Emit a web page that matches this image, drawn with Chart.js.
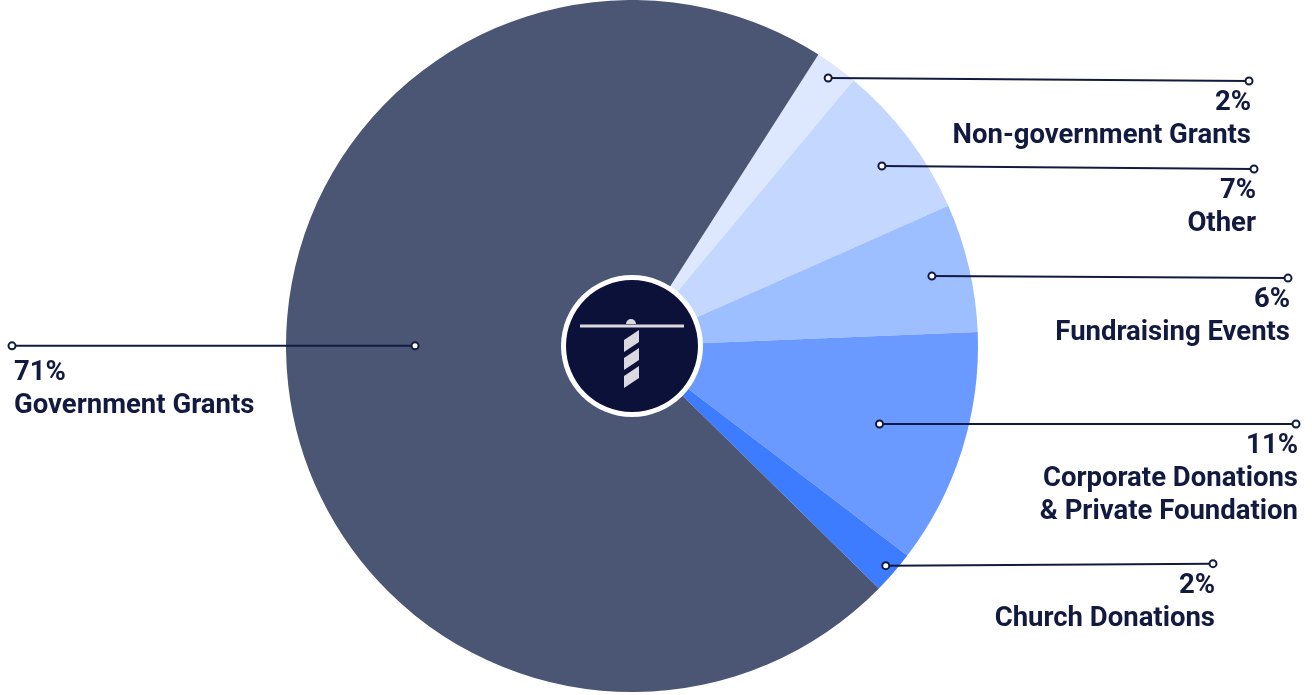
<!DOCTYPE html>
<html>
<head>
<meta charset="utf-8">
<script src="https://cdn.jsdelivr.net/npm/chart.js@4.4.1/dist/chart.umd.min.js"></script>
<style>
    html, body { margin: 0; padding: 0; background: #ffffff; }
    #wrap { width: 1312px; height: 695px; position: relative; }
</style>
</head>
<body>
<div id="wrap"><canvas id="fontes"></canvas></div>
<script>
// slices clockwise, starting right after Government Grants
const categorias = ["Non-government Grants", "Other", "Fundraising Events", "Corporate Donations\n& Private Foundation", "Church Donations", "Government Grants"];
const valores = [2, 7.3, 6, 11, 2, 71.7];
const rotulos = ["2%", "7%", "6%", "11%", "2%", "71%"];
const cores = ["#dde8ff", "#c4d7ff", "#9dbeff", "#6a9aff", "#3e7cff", "#4b5675"];

// leader lines: fraction of radius where the line starts, angle nudge (deg), x of the label end
const inicioRaio = [0.96, 0.89, 0.89, 0.75, 0.97, 0.627];
const ajusteAngulo = [0, 1.3, 0, 0, 0, 6.5];
const fimX = [1249, 1254, 1288, 1296, 1213, 12];
const inclinacao = [3, 3, 2, 0, -2, 0];

const NAVY = "#131a3f";

const liderPlugin = {
    id: "lider",
    afterDatasetsDraw(chart) {
        const { ctx } = chart;
        const arcos = chart.getDatasetMeta(0).data;

        ctx.save();
        arcos.forEach((arco, i) => {
            const meio = (arco.startAngle + arco.endAngle) / 2 + ajusteAngulo[i] * Math.PI / 180;
            const r = arco.outerRadius * inicioRaio[i];
            const x0 = arco.x + Math.cos(meio) * r;
            const y0 = arco.y + Math.sin(meio) * r;
            const x1 = fimX[i];
            const y1 = y0 + inclinacao[i];
            const esquerda = x1 < x0;

            ctx.strokeStyle = NAVY;
            ctx.lineWidth = 2;
            ctx.beginPath();
            ctx.moveTo(x0, y0);
            ctx.lineTo(x1, y1);
            ctx.stroke();

            [[x0, y0], [x1, y1]].forEach(([px, py]) => {
                ctx.beginPath();
                ctx.arc(px, py, 3.5, 0, Math.PI * 2);
                ctx.fillStyle = "#ffffff";
                ctx.fill();
                ctx.lineWidth = 2;
                ctx.stroke();
            });

            ctx.fillStyle = NAVY;
            ctx.font = "700 27.5px Roboto, sans-serif";
            ctx.textBaseline = "alphabetic";
            ctx.textAlign = esquerda ? "left" : "right";
            const tx = esquerda ? x1 + 2 : x1 + 2;
            const primeira = esquerda ? 34 : 29;
            const linhas = [rotulos[i]].concat(categorias[i].split("\n"));
            linhas.forEach((txt, k) => {
                ctx.fillText(txt, tx, y1 + primeira + k * 33);
            });
        });
        ctx.restore();
    }
};

const logoPlugin = {
    id: "logo",
    afterDraw(chart) {
        const { ctx } = chart;
        const arco = chart.getDatasetMeta(0).data[0];
        const cx = arco.x, cy = arco.y;

        ctx.save();
        ctx.beginPath();
        ctx.arc(cx, cy, 71, 0, Math.PI * 2);
        ctx.fillStyle = "#ffffff";
        ctx.fill();
        ctx.beginPath();
        ctx.arc(cx, cy, 66, 0, Math.PI * 2);
        ctx.fillStyle = "#0c1139";
        ctx.fill();

        // lighthouse
        ctx.fillStyle = "#d9d9df";
        ctx.fillRect(cx - 52, cy - 21.5, 104, 3);
        ctx.beginPath();
        ctx.arc(cx - 1, cy - 22, 5, Math.PI, 0);
        ctx.fill();
        [-16, 2, 20].forEach(topo => {
            ctx.beginPath();
            ctx.moveTo(cx - 8, cy + topo + 10);
            ctx.lineTo(cx + 7, cy + topo);
            ctx.lineTo(cx + 7, cy + topo + 12);
            ctx.lineTo(cx - 8, cy + topo + 22);
            ctx.closePath();
            ctx.fill();
        });
        ctx.restore();
    }
};

new Chart(document.getElementById("fontes"), {
    type: "pie",
    data: {
        labels: categorias,
        datasets: [{
            data: valores,
            backgroundColor: cores,
            borderWidth: 0
        }]
    },
    plugins: [liderPlugin, logoPlugin],
    options: {
        responsive: true,
        maintainAspectRatio: false,
        animation: false,
        rotation: 32.6,
        layout: { padding: { top: 0, bottom: 3, left: 0, right: 48 } },
        plugins: {
            legend: { display: false },
            tooltip: { enabled: false }
        }
    }
});
</script>
</body>
</html>
